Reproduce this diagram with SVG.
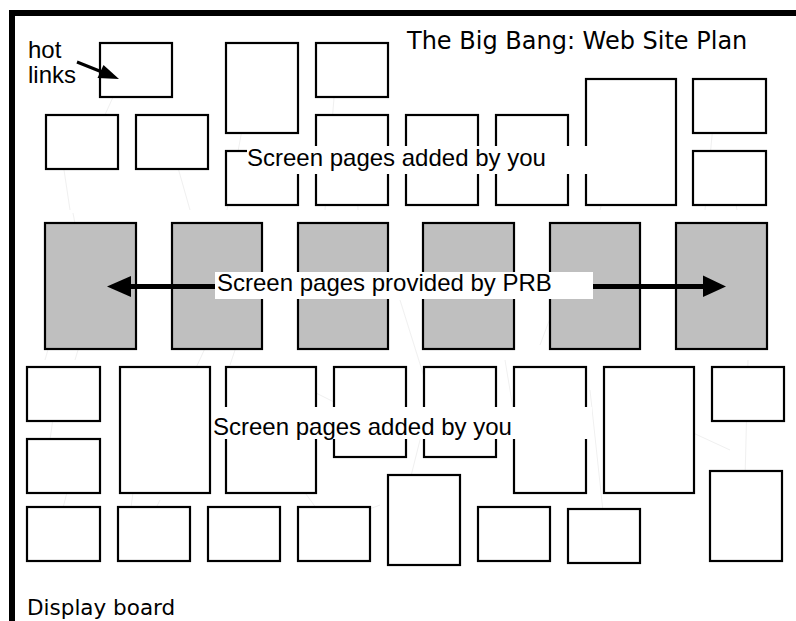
<svg xmlns="http://www.w3.org/2000/svg" width="796" height="621" viewBox="0 0 796 621">
<style>
.pg{fill:#fff;stroke:#000;stroke-width:2.2}
.pr{fill:#bfbfbf;stroke:#000;stroke-width:2.2}
.tx{font-family:"Liberation Sans",Arial,sans-serif;font-size:24px;fill:#000}
.gv{font-family:"DejaVu Sans",Verdana,sans-serif;fill:#000}
.bg{fill:#fff}
.tex{stroke:#f0f0f0;stroke-width:1;fill:none}
</style>
<rect width="796" height="621" fill="#fff"/>
<g id="board">
<rect x="9" y="10" width="787" height="6" fill="#000"/>
<rect x="9" y="10" width="6" height="611" fill="#000"/>
</g>
<g id="texture">
<path class="tex" d="M133 53L99 128M57 123L70 210M165 122L190 210M257 50L227 210M338 48L325 210M355 125L358 210M426 115L440 205M525 127L500 205M628 105L600 210M717 83L705 210M728 160L737 210M73 213L80 250M67 283L45 360M90 310L75 360M200 230L175 345M225 305L195 370M245 320L230 365M330 240L350 330M400 300L425 380M555 305L540 345M600 300L625 350M720 300L740 350M60 367L50 440M80 440L60 520M170 370L155 420M140 440L130 515M160 500L150 520M260 373L275 380M290 380L350 410M270 445L325 520M340 520L380 505M410 480L430 400M460 410L470 390M505 360L520 450M590 390L605 530M650 375L635 380M665 420L730 450M748 360L745 480"/>
</g>
<g id="top-pages">
<g id="p-hot"><rect class="pg" x="100" y="43" width="72" height="54"/></g>
<g id="p2"><rect class="pg" x="46" y="115" width="72" height="54"/></g>
<g id="p3"><rect class="pg" x="136" y="115" width="72" height="54"/></g>
<g id="p4"><rect class="pg" x="226" y="43" width="72" height="90"/></g>
<g id="p5"><rect class="pg" x="316" y="43" width="72" height="54"/></g>
<g id="p6"><rect class="pg" x="226" y="151" width="72" height="54"/></g>
<g id="p7"><rect class="pg" x="316" y="115" width="72" height="90"/></g>
<g id="p8"><rect class="pg" x="406" y="115" width="72" height="90"/></g>
<g id="p9"><rect class="pg" x="496" y="115" width="72" height="90"/></g>
<g id="p10"><rect class="pg" x="586" y="79" width="90" height="126"/></g>
<g id="p11"><rect class="pg" x="693" y="79" width="73" height="54"/></g>
<g id="p12"><rect class="pg" x="693" y="151" width="73" height="54"/></g>
</g>
<g id="prb-pages">
<g id="g1"><rect class="pr" x="45" y="223" width="91" height="126"/></g>
<g id="g2"><rect class="pr" x="172" y="223" width="90" height="126"/></g>
<g id="g3"><rect class="pr" x="298" y="223" width="90" height="126"/></g>
<g id="g4"><rect class="pr" x="423" y="223" width="91" height="126"/></g>
<g id="g5"><rect class="pr" x="550" y="223" width="90" height="126"/></g>
<g id="g6"><rect class="pr" x="676" y="223" width="91" height="126"/></g>
</g>
<g id="bottom-pages">
<g id="b1"><rect class="pg" x="27" y="367" width="73" height="54"/></g>
<g id="b2"><rect class="pg" x="27" y="439" width="73" height="54"/></g>
<g id="b3"><rect class="pg" x="120" y="367" width="90" height="126"/></g>
<g id="b4"><rect class="pg" x="226" y="367" width="90" height="126"/></g>
<g id="b5"><rect class="pg" x="334" y="367" width="72" height="90"/></g>
<g id="b6"><rect class="pg" x="424" y="367" width="72" height="90"/></g>
<g id="b7"><rect class="pg" x="514" y="367" width="72" height="126"/></g>
<g id="b8"><rect class="pg" x="604" y="367" width="90" height="126"/></g>
<g id="b9"><rect class="pg" x="712" y="367" width="72" height="54"/></g>
<g id="b10"><rect class="pg" x="27" y="507" width="73" height="54"/></g>
<g id="b11"><rect class="pg" x="118" y="507" width="72" height="54"/></g>
<g id="b12"><rect class="pg" x="208" y="507" width="72" height="54"/></g>
<g id="b13"><rect class="pg" x="298" y="507" width="72" height="54"/></g>
<g id="b14"><rect class="pg" x="388" y="475" width="72" height="90"/></g>
<g id="b15"><rect class="pg" x="478" y="507" width="72" height="54"/></g>
<g id="b16"><rect class="pg" x="568" y="509" width="72" height="54"/></g>
<g id="b17"><rect class="pg" x="710" y="471" width="72" height="90"/></g>
</g>
<g id="connectors">
<line x1="77" y1="62" x2="102" y2="72" stroke="#000" stroke-width="3"/>
<polygon points="119,79 97.5,78 103.5,65" fill="#000"/>
<line x1="128" y1="286.5" x2="706" y2="286.5" stroke="#000" stroke-width="5"/>
<polygon points="107,286.5 131,276 131,297" fill="#000"/>
<polygon points="726,286.5 703,275.5 703,297" fill="#000"/>
</g>
<g id="labels">
<text class="gv" x="407" y="49" font-size="24">The Big Bang: Web Site Plan</text>
<text class="tx" x="28" y="58" font-size="23">hot</text>
<text class="tx" x="28" y="83" font-size="23">links</text>
<rect class="bg" x="247" y="146" width="343" height="28"/>
<text class="tx" x="247" y="166" font-size="24.5">Screen pages added by you</text>
<rect class="bg" x="215" y="272" width="378" height="27"/>
<text class="tx" x="217" y="291">Screen pages provided by PRB</text>
<rect class="bg" x="212" y="407" width="380" height="32"/>
<text class="tx" x="213" y="435" font-size="24.5">Screen pages added by you</text>
<text class="gv" x="27" y="615" font-size="21.5">Display board</text>
</g>
</svg>
